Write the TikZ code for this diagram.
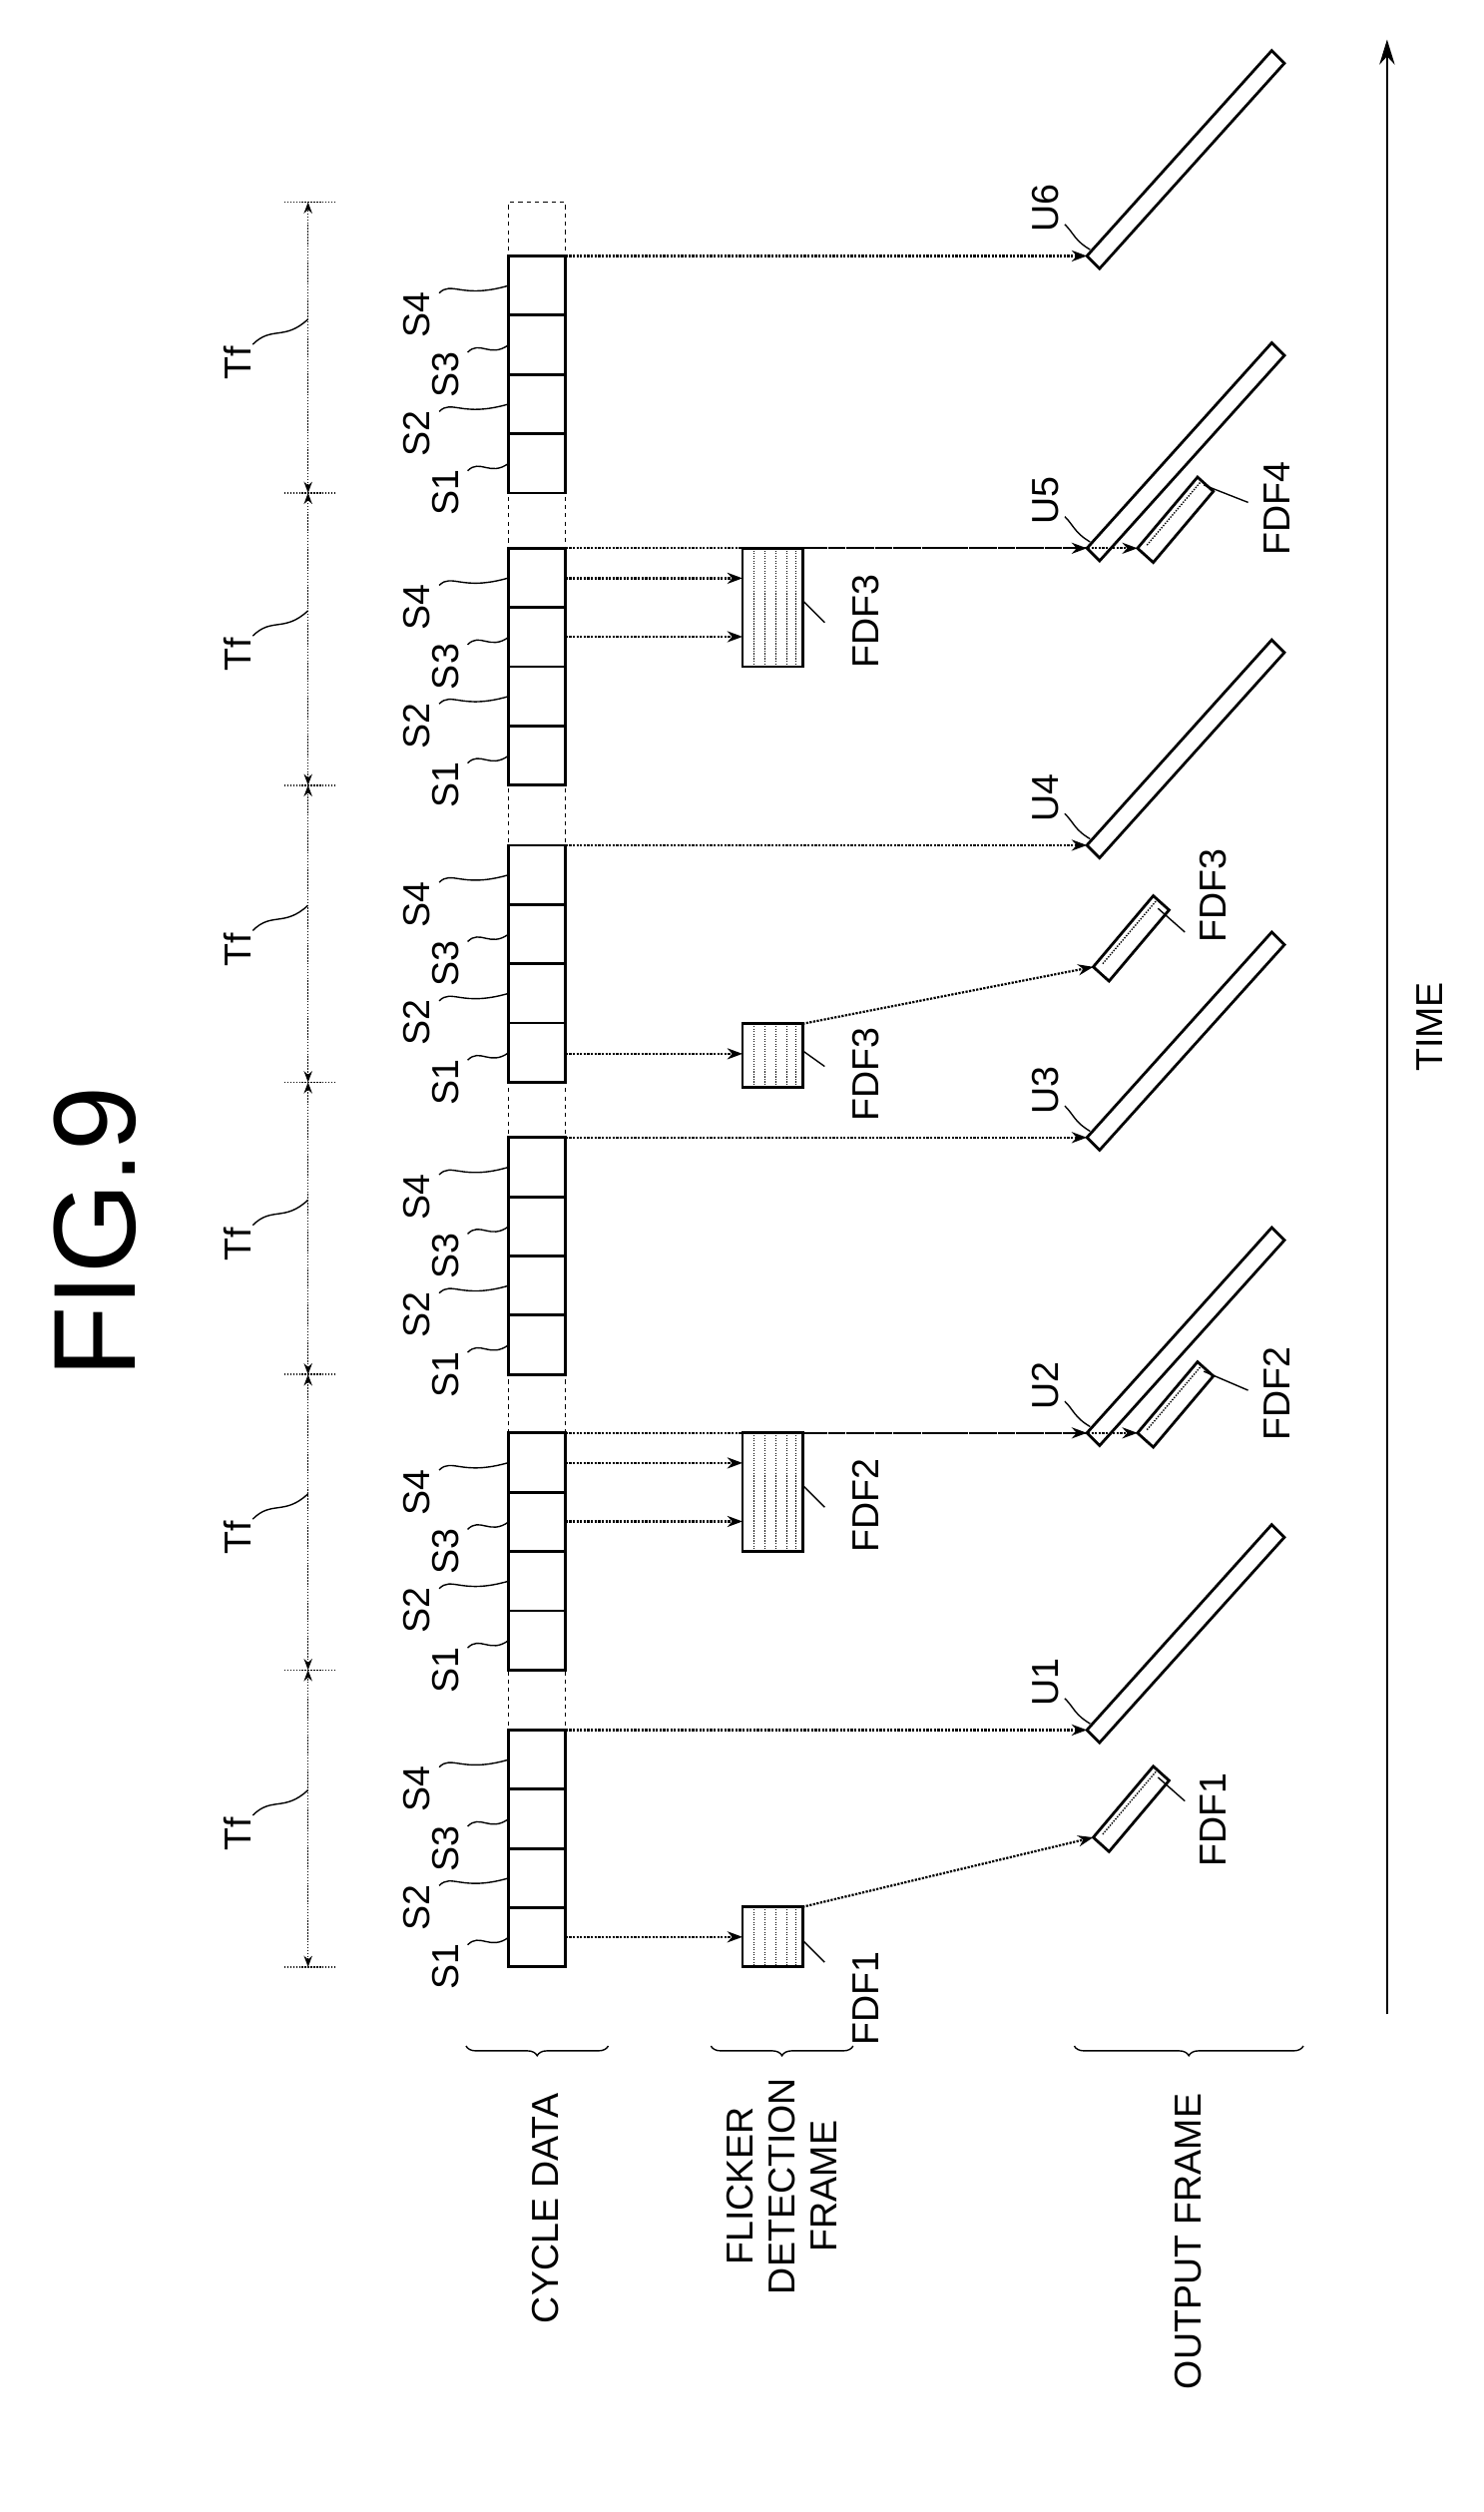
\documentclass[tikz,border=0pt]{standalone}
\usepackage{fontspec}
\setmainfont{Liberation Sans}
\usetikzlibrary{arrows.meta,decorations.pathreplacing,calc}
\begin{document}
\begin{tikzpicture}[x=0.04cm,y=-0.04cm,
  lbl/.style={rotate=90,font=\fontsize{27}{30}\selectfont,inner sep=0pt},
  conn/.style={densely dotted,line width=1.6pt,-{Stealth[length=11pt,width=8pt]}},
  box/.style={line width=2pt},
  lead/.style={line width=1pt},
  outf/.style={line width=2pt}]
\useasboundingbox (0,0) rectangle (939,1590);
% title
\node[rotate=90,font=\fontsize{84}{94}\selectfont] (fig) at (60,780) {FIG.9};
% time axis
\coordinate (t0) at (878,1275); \coordinate (t1) at (878,25);
\draw[line width=1.6pt,-{Stealth[length=18pt,width=11pt]}] (t0) -- (t1);
\node[lbl] (time) at (905,650) {TIME};
% Tf dimension line
\foreach \a/\b [count=\i] in {1245/1057,1057/870,870/685,685/497,497/312,312/128}{
  \coordinate (ta\i) at (195,\a); \coordinate (tb\i) at (195,\b);
  \draw[densely dotted,line width=1.1pt,{Stealth[length=8pt,width=6pt]}-{Stealth[length=8pt,width=6pt]}] (ta\i) -- (tb\i);
  \node[lbl] (tf\i) at (150,{(\a+\b)/2+10}) {Tf};
  \draw[lead] (160,{(\a+\b)/2-2}) .. controls (172,{(\a+\b)/2-14}) and (180,{(\a+\b)/2-4}) .. (195,{(\a+\b)/2-18});
}
\foreach \y in {1245,1057,870,685,497,312,128}{
  \draw[densely dotted,line width=1.1pt] (180,\y) -- (212,\y);
}
% cycle data dashed outline
\draw[dashed,line width=1pt] (322,1245) -- (322,128) -- (358,128) -- (358,1245);
% groups
\foreach \b [count=\g] in {1245,1057,870,685,497,312}{
  \draw[box] (322,\b) rectangle (358,\b-150);
  \foreach \k in {1,2,3}{ \draw[box] (322,\b-37.5*\k) -- (358,\b-37.5*\k); }
  \foreach \k/\lx in {1/282,2/264,3/282,4/264}{
    \node[lbl] (s\g\k) at (\lx,{\b-37.5*(\k-1)-0}) {S\k};
    \draw[lead] (\lx+14,{\b-37.5*(\k-1)-14}) .. controls (\lx+22,{\b-37.5*(\k-1)-22}) and (\lx+28,{\b-37.5*(\k-1)-10}) .. (322,{\b-37.5*\k+18.75});
  }
  \coordinate (top\g) at (358,\b-150);
}
% output frames
\newcommand{\outfr}[1]{%
  \draw[outf] (#1) -- ++(117,-130) -- ++(8,8) -- ++(-117,130) -- cycle;}
\newcommand{\smallfr}[1]{%
  \draw[outf] (#1) -- ++(38,-45) -- ++(10,9) -- ++(-38,45) -- cycle;
  \draw[densely dotted,line width=1pt] ($(#1)+(6,-2)$) -- ++(34,-40);}
\foreach \g/\y in {1/1095,2/907,3/720,4/535,5/347,6/162}{
  \coordinate (u\g) at (688,\y);
  \outfr{u\g}
  \draw[conn] (top\g) -- (u\g);
  \node[lbl] (ul\g) at (662,\y-30) {U\g};
  \draw[lead] (674,\y-20) .. controls (680,\y-14) and (680,\y-10) .. (690,\y-4);
}
% flicker detection boxes
\newcommand{\fdbox}[3]{% name, top y, bottom y
  \draw[box] (470,#2) rectangle (508,#3);
  \foreach \xx in {477,484,491,498,504}{\draw[densely dotted,line width=0.8pt] (\xx,#2) -- (\xx,#3);}
  \coordinate (#1tr) at (508,#2);}
\fdbox{fa}{1207}{1245}
\fdbox{fb}{907}{982}
\fdbox{fc}{648}{688}
\fdbox{fd}{347}{422}
\node[lbl] (fal) at (548,1265) {FDF1};
\node[lbl] (fbl) at (548,953) {FDF2};
\node[lbl] (fcl) at (548,680) {FDF3};
\node[lbl] (fdl) at (548,393) {FDF3};
\draw[lead] (508,1228) -- (522,1242);
\draw[lead] (508,940) -- (522,954);
\draw[lead] (508,665) -- (522,675);
\draw[lead] (508,380) -- (522,394);
% arrows from cells
\coordinate (c11) at (358,1226); \coordinate (f11) at (470,1226);
\draw[conn] (c11) -- (f11);
\coordinate (c23) at (358,963); \coordinate (f23) at (470,963);
\coordinate (c24) at (358,926); \coordinate (f24) at (470,926);
\draw[conn] (c23) -- (f23); \draw[conn] (c24) -- (f24);
\coordinate (c41) at (358,667); \coordinate (f41) at (470,667);
\draw[conn] (c41) -- (f41);
\coordinate (c53) at (358,403); \coordinate (f53) at (470,403);
\coordinate (c54) at (358,366); \coordinate (f54) at (470,366);
\draw[conn] (c53) -- (f53); \draw[conn] (c54) -- (f54);
% small FDF frames
\coordinate (sf1) at (692,1163); \smallfr{sf1}
\draw[conn] (fatr) -- (sf1);
\coordinate (sf2) at (720,907); \smallfr{sf2}
\draw[conn] (fbtr) -- (sf2);
\coordinate (sf3) at (692,612); \smallfr{sf3}
\draw[conn] (fctr) -- (sf3);
\coordinate (sf4) at (720,347); \smallfr{sf4}
\draw[conn] (fdtr) -- (sf4);
\node[lbl] (sfl1) at (768,1152) {FDF1};
\node[lbl] (sfl2) at (808,882) {FDF2};
\node[lbl] (sfl3) at (768,567) {FDF3};
\node[lbl] (sfl4) at (808,322) {FDF4};
\draw[lead] (733,1125) -- (750,1140);
\draw[lead] (762,868) -- (790,880);
\draw[lead] (733,575) -- (750,590);
\draw[lead] (762,307) -- (790,318);
% left braces and labels
\draw[decorate,decoration={brace,amplitude=7pt},line width=1pt] (385,1295) -- (295,1295);
\draw[decorate,decoration={brace,amplitude=7pt},line width=1pt] (540,1295) -- (450,1295);
\draw[decorate,decoration={brace,amplitude=7pt},line width=1pt] (825,1295) -- (680,1295);
\node[lbl,anchor=east] (cd) at (345,1325) {CYCLE DATA};
\node[lbl,anchor=east,align=center] (fdf) at (495,1315) {FLICKER\\DETECTION\\FRAME};
\node[lbl,anchor=east] (of) at (752,1325) {OUTPUT FRAME};
\end{tikzpicture}
\end{document}
